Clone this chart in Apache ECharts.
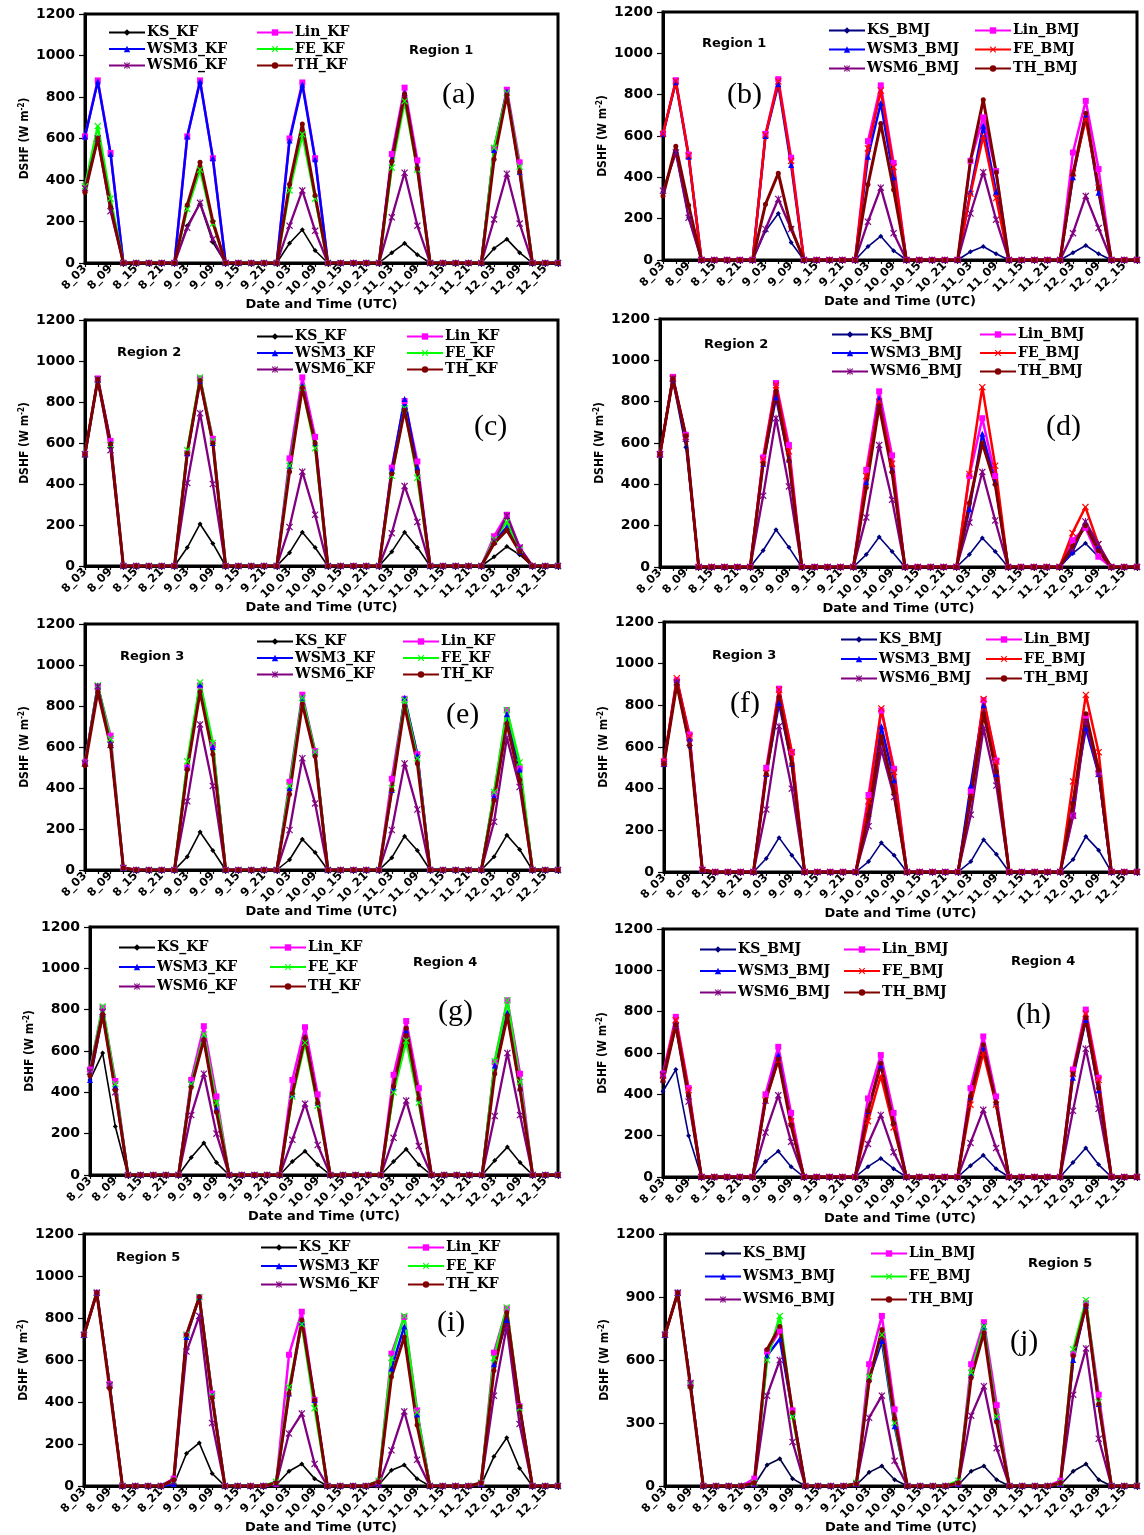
<!DOCTYPE html>
<html>
<head>
<meta charset="utf-8">
<title>DSHF by microphysics scheme</title>
<script src="https://cdn.jsdelivr.net/npm/echarts@6/dist/echarts.min.js"></script>
<style>
  html, body { margin: 0; padding: 0; background: #fff; }
  #chart { width: 1144px; height: 1535px; }
</style>
</head>
<body>
<div id="chart"></div>
<script>
// 3-hourly time steps, 8th 03 UTC to 12th 18 UTC (day_hour)
const categories = [
  '8_03','8_06','8_09','8_12','8_15','8_18','8_21','9_00',
  '9_03','9_06','9_09','9_12','9_15','9_18','9_21','10_00',
  '10_03','10_06','10_09','10_12','10_15','10_18','10_21','11_00',
  '11_03','11_06','11_09','11_12','11_15','11_18','11_21','12_00',
  '12_03','12_06','12_09','12_12','12_15','12_18'
];

const yTicks = [0, 200, 400, 600, 800, 1000, 1200];
const yTicksJ = [0, 300, 600, 900, 1200];

const schemes = ['KS', 'Lin', 'WSM3', 'FE', 'WSM6', 'TH'];

// (a) Region 1, KF
const panelA = {
  KS:   [340,600,270,0,0,0,0,0, 180,285,100,0,0,0,0,0, 95,160,60,0,0,0,0,0, 50,95,40,0,0,0,0,0, 70,115,50,0,0,0],
  Lin:  [610,880,530,0,0,0,0,0, 610,880,505,0,0,0,0,0, 600,870,505,0,0,0,0,0, 525,845,495,0,0,0,0,0, 550,835,485,0,0,0],
  WSM3: [610,875,525,0,0,0,0,0, 610,875,505,0,0,0,0,0, 590,860,500,0,0,0,0,0, 500,820,460,0,0,0,0,0, 545,825,440,0,0,0],
  FE:   [370,660,310,0,0,0,0,0, 260,450,190,0,0,0,0,0, 350,620,310,0,0,0,0,0, 460,780,450,0,0,0,0,0, 555,820,465,0,0,0],
  WSM6: [360,600,250,0,0,0,0,0, 170,290,115,0,0,0,0,0, 180,350,155,0,0,0,0,0, 220,435,180,0,0,0,0,0, 210,430,190,0,0,0],
  TH:   [340,600,270,0,0,0,0,0, 280,485,200,0,0,0,0,0, 380,670,325,0,0,0,0,0, 490,815,455,0,0,0,0,0, 500,810,440,0,0,0]
};
// (b) Region 1, BMJ
const panelB = {
  KS:   [330,520,205,0,0,0,0,0, 140,225,85,0,0,0,0,0, 65,115,45,0,0,0,0,0, 40,65,30,0,0,0,0,0, 35,70,30,0,0,0],
  Lin:  [610,870,510,0,0,0,0,0, 610,875,495,0,0,0,0,0, 575,845,470,0,0,0,0,0, 480,690,430,0,0,0,0,0, 520,770,440,0,0,0],
  WSM3: [610,860,500,0,0,0,0,0, 600,850,460,0,0,0,0,0, 500,760,400,0,0,0,0,0, 330,650,330,0,0,0,0,0, 400,700,325,0,0,0],
  FE:   [610,865,505,0,0,0,0,0, 605,865,480,0,0,0,0,0, 540,820,450,0,0,0,0,0, 320,600,300,0,0,0,0,0, 420,680,350,0,0,0],
  WSM6: [335,520,205,0,0,0,0,0, 150,295,150,0,0,0,0,0, 185,350,130,0,0,0,0,0, 225,425,195,0,0,0,0,0, 130,310,155,0,0,0],
  TH:   [310,550,265,0,0,0,0,0, 270,420,155,0,0,0,0,0, 365,660,340,0,0,0,0,0, 480,775,425,0,0,0,0,0, 415,710,350,0,0,0]
};
// (c) Region 2, KF
const panelC = {
  KS:   [545,905,580,0,0,0,0,0, 90,205,110,0,0,0,0,0, 65,165,90,0,0,0,0,0, 70,165,90,0,0,0,0,0, 45,95,55,0,0,0],
  Lin:  [545,915,610,0,0,0,0,0, 550,915,620,0,0,0,0,0, 525,920,630,0,0,0,0,0, 480,805,510,0,0,0,0,0, 145,250,90,0,0,0],
  WSM3: [545,910,600,0,0,0,0,0, 550,905,600,0,0,0,0,0, 490,880,600,0,0,0,0,0, 470,815,480,0,0,0,0,0, 120,190,70,0,0,0],
  FE:   [545,910,590,0,0,0,0,0, 565,920,610,0,0,0,0,0, 490,870,575,0,0,0,0,0, 440,770,430,0,0,0,0,0, 130,215,80,0,0,0],
  WSM6: [545,910,565,0,0,0,0,0, 405,745,400,0,0,0,0,0, 190,460,250,0,0,0,0,0, 160,390,215,0,0,0,0,0, 120,245,90,0,0,0],
  TH:   [545,910,595,0,0,0,0,0, 550,905,600,0,0,0,0,0, 460,870,600,0,0,0,0,0, 450,760,460,0,0,0,0,0, 110,175,70,0,0,0]
};
// (d) Region 2, BMJ
const panelD = {
  KS:   [545,900,580,0,0,0,0,0, 80,180,95,0,0,0,0,0, 60,145,75,0,0,0,0,0, 60,140,75,0,0,0,0,0, 65,115,50,0,0,0],
  Lin:  [545,920,640,0,0,0,0,0, 530,890,590,0,0,0,0,0, 470,850,540,0,0,0,0,0, 440,720,440,0,0,0,0,0, 130,190,50,0,0,0],
  WSM3: [545,915,630,0,0,0,0,0, 500,820,520,0,0,0,0,0, 410,815,470,0,0,0,0,0, 280,645,410,0,0,0,0,0, 75,215,100,0,0,0],
  FE:   [545,915,630,0,0,0,0,0, 520,880,560,0,0,0,0,0, 440,800,500,0,0,0,0,0, 450,870,490,0,0,0,0,0, 165,290,110,0,0,0],
  WSM6: [545,910,620,0,0,0,0,0, 345,720,390,0,0,0,0,0, 240,590,325,0,0,0,0,0, 215,460,225,0,0,0,0,0, 90,220,110,0,0,0],
  TH:   [545,910,635,0,0,0,0,0, 500,850,515,0,0,0,0,0, 385,780,460,0,0,0,0,0, 310,600,400,0,0,0,0,0, 100,200,80,0,0,0]
};
// (e) Region 3, KF
const panelE = {
  KS:   [520,895,600,10,0,0,0,0, 65,185,95,0,0,0,0,0, 50,150,85,0,0,0,0,0, 60,165,95,0,0,0,0,0, 65,170,100,0,0,0],
  Lin:  [525,895,655,10,0,0,0,0, 500,900,610,0,0,0,0,0, 430,855,580,0,0,0,0,0, 445,835,565,0,0,0,0,0, 370,780,495,0,0,0],
  WSM3: [520,900,620,10,0,0,0,0, 500,905,600,0,0,0,0,0, 400,840,570,0,0,0,0,0, 390,840,560,0,0,0,0,0, 360,760,490,0,0,0],
  FE:   [520,900,640,10,0,0,0,0, 530,915,620,0,0,0,0,0, 410,840,575,0,0,0,0,0, 400,830,545,0,0,0,0,0, 380,780,525,0,0,0],
  WSM6: [520,895,610,10,0,0,0,0, 335,710,410,0,0,0,0,0, 195,545,325,0,0,0,0,0, 195,520,295,0,0,0,0,0, 235,645,405,0,0,0],
  TH:   [510,870,605,10,0,0,0,0, 490,870,565,0,0,0,0,0, 370,810,555,0,0,0,0,0, 390,800,520,0,0,0,0,0, 340,715,440,0,0,0]
};
// (f) Region 3, BMJ
const panelF = {
  KS:   [520,900,600,10,0,0,0,0, 65,165,80,0,0,0,0,0, 50,140,80,0,0,0,0,0, 50,155,85,0,0,0,0,0, 60,170,105,0,0,0],
  Lin:  [530,920,660,10,0,0,0,0, 500,880,575,0,0,0,0,0, 370,775,495,0,0,0,0,0, 390,825,535,0,0,0,0,0, 270,750,480,0,0,0],
  WSM3: [520,920,640,10,0,0,0,0, 470,810,520,0,0,0,0,0, 280,700,440,0,0,0,0,0, 415,800,470,0,0,0,0,0, 340,690,470,0,0,0],
  FE:   [530,930,650,10,0,0,0,0, 475,875,575,0,0,0,0,0, 340,785,480,0,0,0,0,0, 360,830,530,0,0,0,0,0, 435,850,575,0,0,0],
  WSM6: [520,910,620,10,0,0,0,0, 300,700,400,0,0,0,0,0, 220,590,360,0,0,0,0,0, 275,690,415,0,0,0,0,0, 270,720,470,0,0,0],
  TH:   [520,900,610,10,0,0,0,0, 470,840,520,0,0,0,0,0, 275,650,380,0,0,0,0,0, 355,760,480,0,0,0,0,0, 330,760,490,0,0,0]
};
// (g) Region 4, KF
const panelG = {
  KS:   [460,590,235,0,0,0,0,0, 85,155,60,0,0,0,0,0, 65,115,50,0,0,0,0,0, 65,125,50,0,0,0,0,0, 70,135,60,0,0,0],
  Lin:  [510,810,455,0,0,0,0,0, 460,720,380,0,0,0,0,0, 460,715,390,0,0,0,0,0, 485,745,420,0,0,0,0,0, 545,845,490,0,0,0],
  WSM3: [460,780,430,0,0,0,0,0, 440,660,320,0,0,0,0,0, 390,670,350,0,0,0,0,0, 420,700,370,0,0,0,0,0, 530,785,420,0,0,0],
  FE:   [500,815,440,0,0,0,0,0, 440,680,350,0,0,0,0,0, 380,640,335,0,0,0,0,0, 400,650,350,0,0,0,0,0, 550,845,450,0,0,0],
  WSM6: [500,790,400,0,0,0,0,0, 290,490,200,0,0,0,0,0, 170,345,145,0,0,0,0,0, 180,360,140,0,0,0,0,0, 285,590,290,0,0,0],
  TH:   [480,775,410,0,0,0,0,0, 425,655,305,0,0,0,0,0, 395,665,350,0,0,0,0,0, 430,710,370,0,0,0,0,0, 490,770,415,0,0,0]
};
// (h) Region 4, BMJ
const panelH = {
  KS:   [415,520,200,0,0,0,0,0, 75,125,50,0,0,0,0,0, 50,90,40,0,0,0,0,0, 55,105,40,0,0,0,0,0, 70,140,60,0,0,0],
  Lin:  [500,775,430,0,0,0,0,0, 400,630,310,0,0,0,0,0, 380,590,310,0,0,0,0,0, 430,680,390,0,0,0,0,0, 520,810,480,0,0,0],
  WSM3: [470,740,400,0,0,0,0,0, 370,590,260,0,0,0,0,0, 320,540,260,0,0,0,0,0, 390,620,360,0,0,0,0,0, 480,760,420,0,0,0],
  FE:   [490,760,420,0,0,0,0,0, 370,565,270,0,0,0,0,0, 270,490,240,0,0,0,0,0, 350,600,350,0,0,0,0,0, 500,790,470,0,0,0],
  WSM6: [495,730,365,0,0,0,0,0, 215,395,170,0,0,0,0,0, 160,300,120,0,0,0,0,0, 165,325,140,0,0,0,0,0, 320,620,330,0,0,0],
  TH:   [465,735,395,0,0,0,0,0, 370,570,250,0,0,0,0,0, 320,550,260,0,0,0,0,0, 390,640,360,0,0,0,0,0, 500,770,430,0,0,0]
};
// (i) Region 5, KF
const panelI = {
  KS:   [720,920,480,0,0,0,0,5, 155,205,60,0,0,0,0,5, 70,105,35,0,0,0,0,5, 75,100,35,0,0,0,0,5, 140,230,85,0,0,0],
  Lin:  [720,920,485,0,0,0,0,35, 720,900,440,0,0,0,0,10, 625,830,410,0,0,0,0,20, 630,805,360,0,0,0,0,15, 635,845,380,0,0,0],
  WSM3: [720,920,480,0,0,0,0,10, 710,900,430,0,0,0,0,15, 440,780,410,0,0,0,0,10, 560,760,340,0,0,0,0,10, 580,790,380,0,0,0],
  FE:   [720,920,480,0,0,0,0,25, 720,900,430,0,0,0,0,20, 470,770,370,0,0,0,0,25, 610,810,350,0,0,0,0,15, 610,850,370,0,0,0],
  WSM6: [720,920,480,0,0,0,0,20, 640,810,300,0,0,0,0,10, 250,345,105,0,0,0,0,5, 170,355,125,0,0,0,0,10, 430,760,295,0,0,0],
  TH:   [720,920,465,0,0,0,0,30, 720,900,420,0,0,0,0,15, 440,790,410,0,0,0,0,20, 520,710,290,0,0,0,0,15, 550,825,380,0,0,0]
};
// (j) Region 5, BMJ
const panelJ = {
  KS:   [720,920,480,0,0,0,0,5, 100,130,35,0,0,0,0,5, 65,95,30,0,0,0,0,5, 70,95,30,0,0,0,0,5, 70,105,30,0,0,0],
  Lin:  [720,920,485,0,0,0,0,35, 640,740,360,0,0,0,0,10, 580,810,365,0,0,0,0,10, 580,780,385,0,0,0,0,25, 630,870,435,0,0,0],
  WSM3: [720,920,480,0,0,0,0,10, 620,700,350,0,0,0,0,10, 510,690,285,0,0,0,0,10, 530,760,320,0,0,0,0,10, 600,860,390,0,0,0],
  FE:   [720,920,480,0,0,0,0,15, 600,810,330,0,0,0,0,15, 520,720,300,0,0,0,0,25, 540,760,330,0,0,0,0,15, 650,885,400,0,0,0],
  WSM6: [720,920,490,0,0,0,0,10, 430,600,210,0,0,0,0,10, 325,430,120,0,0,0,0,10, 335,475,180,0,0,0,0,10, 435,655,225,0,0,0],
  TH:   [720,920,470,0,0,0,0,15, 650,760,350,0,0,0,0,10, 500,745,320,0,0,0,0,15, 515,730,305,0,0,0,0,15, 620,860,390,0,0,0]
};

// ---- styling ----
const SANS_BOLD = "'DejaVu Sans', 'Liberation Sans', sans-serif";
const SERIF = "'DejaVu Serif', 'Liberation Serif', serif";
const TAG_SERIF = "'Liberation Serif', 'DejaVu Serif', serif";
const NARROW = "'Liberation Sans Narrow', 'DejaVu Sans Condensed', 'Liberation Sans', sans-serif";

const xMark = 'path://M0,1.2L1.2,0L5,3.8L8.8,0L10,1.2L6.2,5L10,8.8L8.8,10L5,6.2L1.2,10L0,8.8L3.8,5Z';
const starMark = 'path://M0,1.2L1.2,0L5,3.8L8.8,0L10,1.2L6.2,5L10,8.8L8.8,10L5,6.2L1.2,10L0,8.8L3.8,5Z M4.3,0L5.7,0L5.7,10L4.3,10Z';

const styleKF = {
  KS:   { color: '#000000', symbol: 'diamond',  size: 5, width: 1.6 },
  Lin:  { color: '#ff00ff', symbol: 'rect',     size: 6, width: 2.5 },
  WSM3: { color: '#0000ff', symbol: 'triangle', size: 6, width: 2.5 },
  FE:   { color: '#00ff00', symbol: xMark,      size: 7, width: 2.5 },
  WSM6: { color: '#800080', symbol: starMark,   size: 7, width: 2.3 },
  TH:   { color: '#800000', symbol: 'circle',   size: 5, width: 3 }
};
const styleBMJ = Object.assign({}, styleKF, {
  KS: Object.assign({}, styleKF.KS, { color: '#000080' }),
  FE: Object.assign({}, styleKF.FE, { color: '#ff0000' })
});
const styleBMJ5 = Object.assign({}, styleKF, {
  KS: Object.assign({}, styleKF.KS, { color: '#000040' })
});

// panel layout: grid box [left, top, width, height], legend columns, labels
const layout = [
  { data: panelA, suffix: 'KF',  style: styleKF,   grid: [85, 14, 473, 249],  leg: [108, 256, 32, 15.5], region: 'Region 1', rPos: [409, 44],  tag: '(a)', tPos: [442, 80] },
  { data: panelB, suffix: 'BMJ', style: styleBMJ,  grid: [663, 12, 474, 248], leg: [828, 974, 30, 18],   region: 'Region 1', rPos: [702, 37],  tag: '(b)', tPos: [727, 80] },
  { data: panelC, suffix: 'KF',  style: styleKF,   grid: [85, 320, 473, 246], leg: [256, 406, 336, 15.5], region: 'Region 2', rPos: [117, 346], tag: '(c)', tPos: [474, 412] },
  { data: panelD, suffix: 'BMJ', style: styleBMJ,  grid: [660, 319, 477, 248], leg: [831, 979, 334, 17.5], region: 'Region 2', rPos: [704, 338], tag: '(d)', tPos: [1046, 412] },
  { data: panelE, suffix: 'KF',  style: styleKF,   grid: [85, 624, 473, 246], leg: [256, 402, 641, 15.5], region: 'Region 3', rPos: [120, 650], tag: '(e)', tPos: [446, 700] },
  { data: panelF, suffix: 'BMJ', style: styleBMJ,  grid: [664, 622, 473, 250], leg: [840, 985, 639, 18.5], region: 'Region 3', rPos: [712, 649], tag: '(f)', tPos: [730, 689] },
  { data: panelG, suffix: 'KF',  style: styleKF,   grid: [90, 927, 468, 248], leg: [118, 269, 947, 18.5], region: 'Region 4', rPos: [413, 956], tag: '(g)', tPos: [438, 997] },
  { data: panelH, suffix: 'BMJ', style: styleBMJ,  grid: [663, 929, 474, 248], leg: [699, 843, 949, 20.5], region: 'Region 4', rPos: [1011, 955], tag: '(h)', tPos: [1016, 1000] },
  { data: panelI, suffix: 'KF',  style: styleKF,   grid: [84, 1234, 474, 253], leg: [260, 407, 1247, 17.5], region: 'Region 5', rPos: [116, 1251], tag: '(i)', tPos: [437, 1308] },
  { data: panelJ, suffix: 'BMJ', style: styleBMJ5, grid: [665, 1234, 472, 252], leg: [704, 870, 1253, 22], region: 'Region 5', rPos: [1028, 1257], tag: '(j)', tPos: [1010, 1327], ticks: yTicksJ }
];

const grids = [], xAxes = [], yAxes = [], series = [], legends = [], titles = [];
const LEGEND_LINE = 13;

layout.forEach((p, i) => {
  const [gl, gt, gw, gh] = p.grid;
  grids.push({ left: gl, top: gt, width: gw, height: gh, show: true, borderColor: '#000', borderWidth: 3, backgroundColor: 'transparent' });

  xAxes.push({
    type: 'category', gridIndex: i, data: categories, boundaryGap: false,
    axisLine: { lineStyle: { color: '#000', width: 3 } },
    axisTick: { interval: 0, length: 4, lineStyle: { color: '#000', width: 1.2 } },
    axisLabel: {
      interval: 1, rotate: 45, margin: 4, color: '#000',
      fontFamily: SANS_BOLD, fontWeight: 'bold', fontSize: 11.5
    },
    name: 'Date and Time (UTC)', nameLocation: 'middle', nameGap: 35, nameMoveOverlap: false,
    nameTextStyle: { fontFamily: SANS_BOLD, fontWeight: 'bold', fontSize: 13, color: '#000' }
  });

  const ticks = p.ticks || yTicks;
  yAxes.push({
    type: 'value', gridIndex: i, min: ticks[0], max: ticks[ticks.length - 1],
    interval: ticks[1] - ticks[0],
    splitLine: { show: false },
    axisLine: { show: true, lineStyle: { color: '#000', width: 3 } },
    axisTick: { show: true, length: 6, lineStyle: { color: '#000', width: 1.2 } },
    axisLabel: { margin: 10, color: '#000', fontFamily: SANS_BOLD, fontWeight: 'bold', fontSize: 14, formatter: v => String(v) },
    name: 'DSHF (W m{sup|-2})', nameLocation: 'middle', nameGap: 53, nameRotate: 90, nameMoveOverlap: false,
    nameTextStyle: {
      fontFamily: NARROW, fontSize: 12, color: '#000', fontWeight: 'bold',
      rich: { sup: { fontFamily: NARROW, fontSize: 8, color: '#000', verticalAlign: 'top', padding: [0, 0, 6, 0] } }
    }
  });

  const colLeft = ['KS', 'WSM3', 'WSM6'];
  const colRight = ['Lin', 'FE', 'TH'];

  schemes.forEach(s => {
    const st = p.style[s];
    series.push({
      name: s + '_' + p.suffix + '#' + i,
      type: 'line', xAxisIndex: i, yAxisIndex: i,
      data: p.data[s],
      symbol: st.symbol, symbolSize: st.size, showSymbol: true,
      lineStyle: { color: st.color, width: st.width },
      itemStyle: { color: st.color },
      animation: false
    });
  });

  const [c1, c2, rowTop, rowStep] = p.leg;
  const legendBase = (left, names) => ({
    orient: 'vertical', left: left, top: rowTop - LEGEND_LINE / 2,
    itemWidth: 36, itemHeight: 8, itemGap: rowStep - LEGEND_LINE,
    selectedMode: false, padding: 0,
    textStyle: { fontFamily: SERIF, fontWeight: 'bold', fontSize: 14, lineHeight: LEGEND_LINE, color: '#000', padding: [0, 0, 0, -3] },
    formatter: n => n.split('#')[0],
    data: names.map(s => s + '_' + p.suffix + '#' + i)
  });
  legends.push(legendBase(c1, colLeft));
  legends.push(legendBase(c2, colRight));

  titles.push({
    text: p.region, left: p.rPos[0], top: p.rPos[1], padding: 0,
    textStyle: { fontFamily: SANS_BOLD, fontWeight: 'bold', fontSize: 13, color: '#000' }
  });
  titles.push({
    text: p.tag, left: p.tPos[0], top: p.tPos[1], padding: 0,
    textStyle: { fontFamily: TAG_SERIF, fontWeight: 'normal', fontSize: 30, color: '#000' }
  });
});

const chart = echarts.init(document.getElementById('chart'), null, { renderer: 'canvas' });
chart.setOption({
  backgroundColor: '#fff',
  animation: false,
  title: titles,
  legend: legends,
  grid: grids,
  xAxis: xAxes,
  yAxis: yAxes,
  series: series
});
</script>
</body>
</html>
